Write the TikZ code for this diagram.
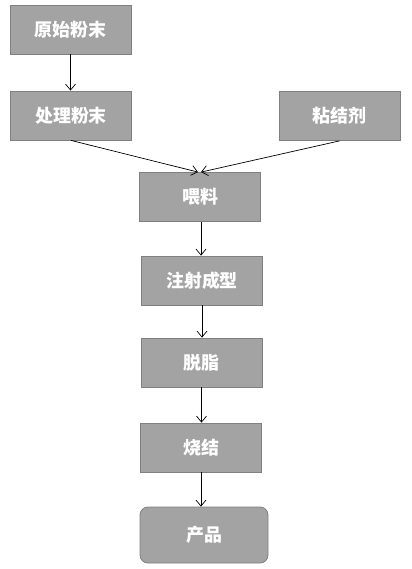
\documentclass[tikz,border=0pt]{standalone}
\usepackage{fontspec}
\newfontfamily\cjk{Noto Sans CJK SC}
\usetikzlibrary{arrows.meta}
\definecolor{boxfill}{HTML}{A3A3A3}
\definecolor{boxline}{HTML}{7F7F7F}
\begin{document}
\begin{tikzpicture}[x=1bp,y=-1bp,
  stepbox/.style={draw=boxline,fill=boxfill,line width=0.8bp,minimum width=121bp,minimum height=49bp,inner sep=0pt,
    text=white,font=\cjk\fontsize{18}{20}\selectfont\bfseries},
  conn/.style={-{Straight Barb[length=6bp,width=10bp]},line width=0.7bp,black}]
\useasboundingbox (0,0) rectangle (411,569);
\node[stepbox] (a) at (70.5,29.5) {原始粉末};
\node[stepbox] (b) at (71,115.5) {处理粉末};
\node[stepbox] (c) at (339.5,116) {粘结剂};
\node[stepbox] (d) at (200,197) {喂料};
\node[stepbox] (e) at (202,280.5) {注射成型};
\node[stepbox] (f) at (201.5,362.5) {脱脂};
\node[stepbox] (g) at (201,447.5) {烧结};
\node[stepbox,rounded corners=8bp,minimum width=128bp,minimum height=56bp] (h) at (204,535) {产品};
\draw[conn] (a.south) -- (a.south |- b.north);
\draw[conn] (b.south) -- ([xshift=-2bp]d.north);
\draw[conn] (c.south) -- ([xshift=1bp]d.north);
\draw[conn] ([xshift=1bp]d.south) -- ([xshift=1bp]d.south |- e.north);
\draw[conn] (e.south) -- (e.south |- f.north);
\draw[conn] (f.south) -- (f.south |- g.north);
\draw[conn] (g.south) -- (g.south |- h.north);
\end{tikzpicture}
\end{document}
